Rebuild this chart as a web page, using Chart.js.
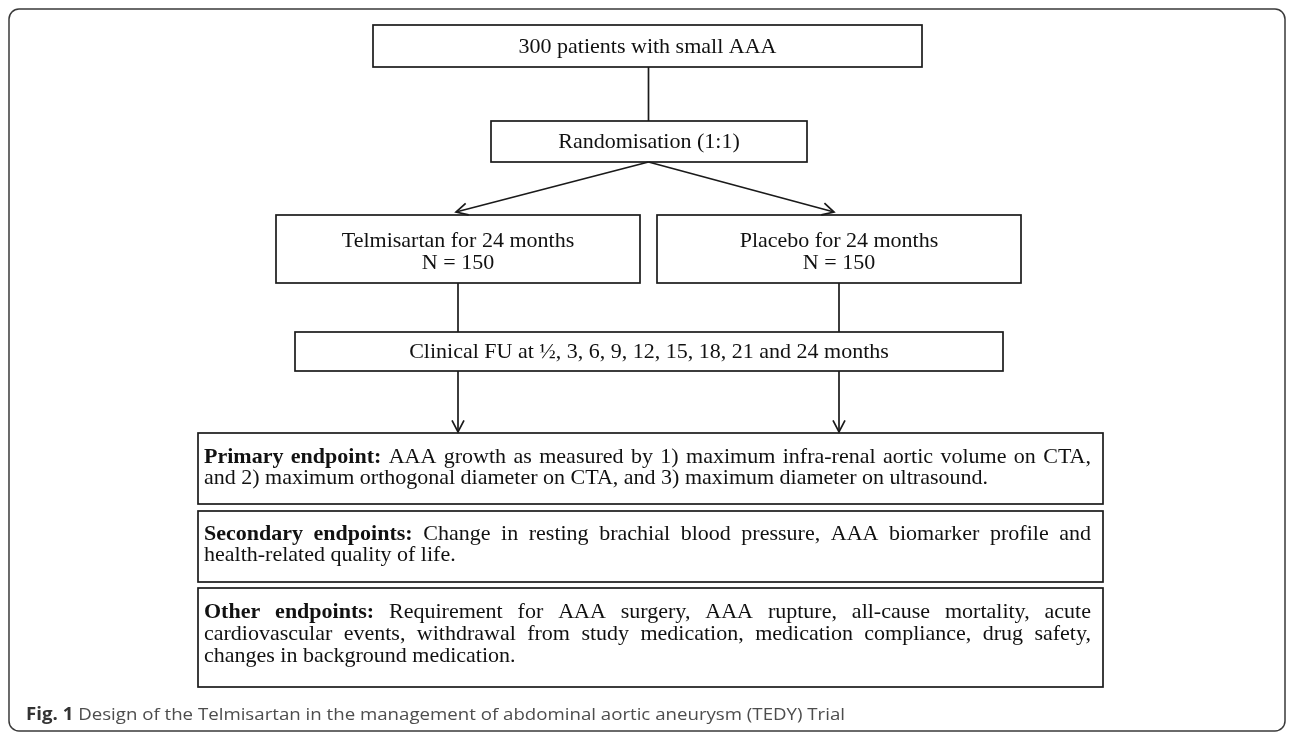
<!DOCTYPE html>
<html>
<head>
<meta charset="utf-8">
<script src="https://cdn.jsdelivr.net/npm/chart.js@4.4.1/dist/chart.umd.min.js"></script>
<style>
  html, body { margin: 0; padding: 0; background: #fff; }
</style>
</head>
<body>
<canvas id="chart" width="1292" height="733"></canvas>
<script>
// texts of the flow boxes
const enrolText = ["300 patients with small AAA"];
const randomText = ["Randomisation (1:1)"];
const armText = [
  ["Telmisartan for 24 months", "N = 150"],
  ["Placebo for 24 months", "N = 150"]
];
const followUpText = ["Clinical FU at ½, 3, 6, 9, 12, 15, 18, 21 and 24 months"];
const endpointTitles = ["Primary endpoint:", "Secondary endpoints:", "Other endpoints:"];
const endpointLines = [
  ["AAA growth as measured by 1) maximum infra-renal aortic volume on CTA,",
   "and 2) maximum orthogonal diameter on CTA, and 3) maximum diameter on ultrasound."],
  ["Change in resting brachial blood pressure, AAA biomarker profile and",
   "health-related quality of life."],
  ["Requirement for AAA surgery, AAA rupture, all-cause mortality, acute",
   "cardiovascular events, withdrawal from study medication, medication compliance, drug safety,",
   "changes in background medication."]
];
const captionParts = ["Fig. 1", "Design of the Telmisartan in the management of abdominal aortic aneurysm (TEDY) Trial"];

// layout in page units (kept apart from the data)
const frame = { x0: 9, y0: 9, x1: 1285, y1: 731, r: 10 };
const boxes = {
  enrol:  { x0: 373, y0: 25,  x1: 922,  y1: 67,  rows: [46] },
  random: { x0: 491, y0: 121, x1: 807,  y1: 162, rows: [141] },
  arm0:   { x0: 276, y0: 215, x1: 640,  y1: 283, rows: [240, 262] },
  arm1:   { x0: 657, y0: 215, x1: 1021, y1: 283, rows: [240, 262] },
  follow: { x0: 295, y0: 332, x1: 1003, y1: 371, rows: [351] },
  ep0:    { x0: 198, y0: 433, x1: 1103, y1: 504, rows: [456, 477] },
  ep1:    { x0: 198, y0: 511, x1: 1103, y1: 582, rows: [533, 554] },
  ep2:    { x0: 198, y0: 588, x1: 1103, y1: 687, rows: [611, 633, 655] }
};
const textPad = { left: 6, right: 12 };
const captionPos = { x: 26, y: 715, width: 819, size: 17 };
const serif = '"Liberation Serif", "Times New Roman", serif';
const fontPx = 22;

const flowPlugin = {
  id: "flow",
  afterDraw(chart) {
    const ctx = chart.ctx;
    const xs = chart.scales.x, ys = chart.scales.y;
    const X = v => xs.getPixelForValue(v);
    const Y = v => ys.getPixelForValue(v);

    ctx.save();
    // outer rounded frame
    ctx.strokeStyle = "#3a3a3a";
    ctx.lineWidth = 1.5;
    ctx.beginPath();
    ctx.roundRect(X(frame.x0), Y(frame.y0), X(frame.x1) - X(frame.x0), Y(frame.y1) - Y(frame.y0), frame.r);
    ctx.stroke();

    ctx.strokeStyle = "#1a1a1a";
    ctx.fillStyle = "#111";
    ctx.lineWidth = 1.7;

    function rect(b) {
      ctx.strokeRect(X(b.x0), Y(b.y0), X(b.x1) - X(b.x0), Y(b.y1) - Y(b.y0));
    }
    function line(x0, y0, x1, y1) {
      ctx.beginPath();
      ctx.moveTo(X(x0), Y(y0));
      ctx.lineTo(X(x1), Y(y1));
      ctx.stroke();
    }
    function arrow(x0, y0, x1, y1) {
      line(x0, y0, x1, y1);
      const a = Math.atan2(Y(y1) - Y(y0), X(x1) - X(x0));
      const len = 13, spread = 0.48;
      ctx.beginPath();
      ctx.moveTo(X(x1) - len * Math.cos(a - spread), Y(y1) - len * Math.sin(a - spread));
      ctx.lineTo(X(x1), Y(y1));
      ctx.lineTo(X(x1) - len * Math.cos(a + spread), Y(y1) - len * Math.sin(a + spread));
      ctx.stroke();
    }
    function centered(b, lines) {
      ctx.font = fontPx + "px " + serif;
      ctx.textAlign = "center";
      ctx.textBaseline = "middle";
      const cx = (X(b.x0) + X(b.x1)) / 2;
      lines.forEach((t, i) => ctx.fillText(t, cx, Y(b.rows[i]) + 1));
    }
    function justified(b, title, lines) {
      ctx.textAlign = "left";
      ctx.textBaseline = "middle";
      const left = X(b.x0) + textPad.left;
      const right = X(b.x1) - textPad.right;
      lines.forEach((t, i) => {
        let words = t.split(" ").map(w => ({ w, bold: false }));
        if (i === 0) words = title.split(" ").map(w => ({ w, bold: true })).concat(words);
        words.forEach(o => {
          ctx.font = (o.bold ? "bold " : "") + fontPx + "px " + serif;
          o.width = ctx.measureText(o.w).width;
        });
        ctx.font = fontPx + "px " + serif;
        const space = ctx.measureText(" ").width;
        const total = words.reduce((s, o) => s + o.width, 0);
        const last = i === lines.length - 1;
        let gap = last ? space : (right - left - total) / (words.length - 1);
        let squeeze = 1;
        if (gap < space * 0.6) { squeeze = (right - left) / (total + space * (words.length - 1)); gap = space * squeeze; }
        let x = left;
        const y = Y(b.rows[i]) + 1;
        words.forEach(o => {
          ctx.font = (o.bold ? "bold " : "") + fontPx + "px " + serif;
          ctx.save();
          ctx.translate(x, y);
          ctx.scale(squeeze, 1);
          ctx.fillText(o.w, 0, 0);
          ctx.restore();
          x += o.width * squeeze + gap;
        });
      });
    }

    // boxes
    Object.values(boxes).forEach(rect);

    // connectors
    const midTop = (boxes.enrol.x0 + boxes.enrol.x1) / 2 + 1;
    line(midTop, boxes.enrol.y1, midTop, boxes.random.y0);
    arrow(midTop, boxes.random.y1, 456, boxes.arm0.y0 - 3);
    arrow(midTop, boxes.random.y1, 834, boxes.arm1.y0 - 3);
    const armX = [(boxes.arm0.x0 + boxes.arm0.x1) / 2, (boxes.arm1.x0 + boxes.arm1.x1) / 2];
    armX.forEach(ax => {
      line(ax, boxes.arm0.y1, ax, boxes.follow.y0);
      arrow(ax, boxes.follow.y1, ax, boxes.ep0.y0 - 1);
    });

    // texts
    centered(boxes.enrol, enrolText);
    centered(boxes.random, randomText);
    centered(boxes.arm0, armText[0]);
    centered(boxes.arm1, armText[1]);
    centered(boxes.follow, followUpText);
    justified(boxes.ep0, endpointTitles[0], endpointLines[0]);
    justified(boxes.ep1, endpointTitles[1], endpointLines[1]);
    justified(boxes.ep2, endpointTitles[2], endpointLines[2]);

    // caption, stretched to the width it has in the figure
    const sans = '"Open Sans", "Noto Sans", sans-serif';
    const sz = captionPos.size;
    ctx.font = "bold " + sz + "px " + sans;
    const boldW = ctx.measureText(captionParts[0] + " ").width;
    ctx.font = sz + "px " + sans;
    const restW = ctx.measureText(captionParts[1]).width;
    const stretch = captionPos.width / (boldW + restW);
    ctx.textAlign = "left";
    ctx.textBaseline = "middle";
    ctx.translate(X(captionPos.x), Y(captionPos.y));
    ctx.scale(stretch, 1);
    ctx.font = "bold " + sz + "px " + sans;
    ctx.fillStyle = "#333";
    ctx.fillText(captionParts[0], 0, 0);
    ctx.font = sz + "px " + sans;
    ctx.fillStyle = "#4d4d4d";
    ctx.fillText(captionParts[1], boldW, 0);
    ctx.restore();
  }
};

new Chart(document.getElementById("chart").getContext("2d"), {
  type: "scatter",
  data: { datasets: [{ data: [] }] },
  options: {
    responsive: false,
    animation: false,
    devicePixelRatio: 1,
    layout: { padding: 0 },
    plugins: { legend: { display: false }, tooltip: { enabled: false } },
    scales: {
      x: { type: "linear", min: 0, max: 1292, display: false },
      y: { type: "linear", min: 0, max: 733, reverse: true, display: false }
    }
  },
  plugins: [flowPlugin]
});
</script>
</body>
</html>
